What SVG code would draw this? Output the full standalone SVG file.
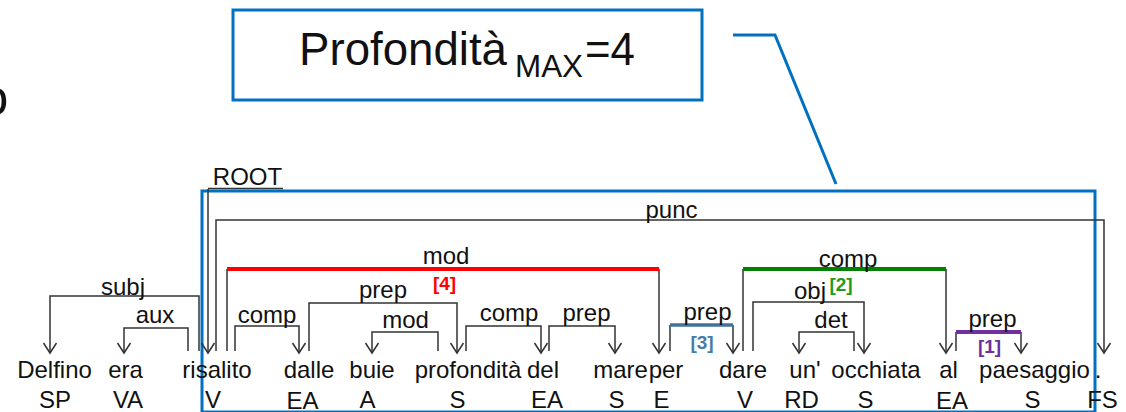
<svg xmlns="http://www.w3.org/2000/svg" width="1126" height="412" viewBox="0 0 1126 412">
<defs>
<style>
text{font-family:"Liberation Sans",Arial,sans-serif;fill:#111}
.w{font-size:24px;text-anchor:middle}
.t{font-size:24px;text-anchor:middle}
.lb{font-size:24px;text-anchor:middle}
.idx{font-size:19px;font-weight:bold;text-anchor:middle}
.c{fill:none;stroke:#333;stroke-width:1.5}
.a{fill:none;stroke:#333;stroke-width:1.5;marker-end:url(#ah)}
.blue{fill:none;stroke:#0070C0;stroke-width:3}
</style>
<marker id="ah" markerUnits="userSpaceOnUse" viewBox="-12 -8 14 16" markerWidth="14" markerHeight="16" refX="0" refY="0" orient="auto">
<path d="M-10,-6.5 L0,0 L-10,6.5" fill="none" stroke="#333" stroke-width="1.5"/>
</marker>
</defs>
<rect width="1126" height="412" fill="#fff"/>

<text x="-19.5" y="115" style="font-size:50px">o</text>

<g id="callout">
<rect class="blue" x="233" y="10" width="469" height="90"/>
<text x="299" y="65" style="font-size:47px" textLength="208" lengthAdjust="spacingAndGlyphs">Profondità</text>
<text x="515" y="77" style="font-size:32px" textLength="68" lengthAdjust="spacingAndGlyphs">MAX</text>
<text x="585" y="65" style="font-size:46px" textLength="50" lengthAdjust="spacingAndGlyphs">=4</text>
<polyline class="blue" points="733,35 775,35 836,184"/>
</g>
<rect id="scope" class="blue" x="202" y="191" width="893" height="221"/>

<g id="connectors">
<!-- ROOT -->
<text class="lb" x="247.5" y="185">ROOT</text>
<line x1="208" y1="188.5" x2="283" y2="188.5" stroke="#333" stroke-width="1.5"/>
<path class="a" d="M208,189 V353"/>
<!-- punc -->
<path class="a" d="M216,351 V220 H1104 V353"/>
<text class="lb" x="671.5" y="218">punc</text>
<!-- subj -->
<path class="a" d="M199,351 V296 H50 V353"/>
<text class="lb" x="123" y="295">subj</text>
<!-- aux -->
<path class="a" d="M188,351 V328 H124 V353"/>
<text class="lb" x="155" y="323">aux</text>
<!-- comp risalito->dalle -->
<path class="a" d="M235,351 V326 H299 V353"/>
<text class="lb" x="267" y="323">comp</text>
<!-- mod red -->
<path class="c" d="M227,351 V269"/>
<path class="a" d="M659,269 V353"/>
<line x1="227" y1="269" x2="659" y2="269" stroke="#FF0000" stroke-width="4"/>
<text class="lb" x="446" y="264">mod</text>
<text class="idx" x="444.5" y="290" style="fill:#FF0000">[4]</text>
<!-- prep dalle->profondita -->
<path class="a" d="M309,351 V303 H457 V353"/>
<text class="lb" x="383" y="298">prep</text>
<!-- mod profondita->buie -->
<path class="a" d="M438,351 V332 H372 V353"/>
<text class="lb" x="405.5" y="328">mod</text>
<!-- comp profondita->del -->
<path class="a" d="M466,351 V326 H541 V353"/>
<text class="lb" x="509" y="321">comp</text>
<!-- prep del->mare -->
<path class="a" d="M549,351 V326 H615 V353"/>
<text class="lb" x="586.5" y="321">prep</text>
<!-- prep per->dare (blue-grey) -->
<path class="c" d="M670,351 V325"/>
<path class="a" d="M733,325 V353"/>
<line x1="670" y1="325" x2="733" y2="325" stroke="#41719C" stroke-width="3.5"/>
<text class="lb" x="707.5" y="320">prep</text>
<text class="idx" x="702" y="349" style="fill:#4A7AA6">[3]</text>
<!-- comp dare->al (green) -->
<path class="c" d="M743,351 V269"/>
<path class="a" d="M946,269 V353"/>
<line x1="743" y1="269" x2="946" y2="269" stroke="#008000" stroke-width="4"/>
<text class="lb" x="848" y="267">comp</text>
<text class="idx" x="841" y="291" style="fill:#1E9B1E">[2]</text>
<!-- obj dare->occhiata -->
<path class="a" d="M753,351 V302 H864 V353"/>
<text class="lb" x="810" y="299">obj</text>
<!-- det occhiata->un' -->
<path class="a" d="M854,351 V332 H799 V353"/>
<text class="lb" x="831" y="328">det</text>
<!-- prep al->paesaggio (purple) -->
<path class="c" d="M956,351 V332"/>
<path class="a" d="M1021,332 V353"/>
<line x1="956" y1="332" x2="1021" y2="332" stroke="#7030A0" stroke-width="4"/>
<text class="lb" x="992.5" y="327">prep</text>
<text class="idx" x="989.5" y="353" style="fill:#7030A0">[1]</text>
</g>

<g id="n1"><text class="w" x="54.5" y="378">Delfino</text><text class="t" x="55" y="408">SP</text></g>
<g id="n2"><text class="w" x="125.5" y="378">era</text><text class="t" x="128" y="408">VA</text></g>
<g id="n3"><text class="w" x="217" y="378">risalito</text><text class="t" x="213" y="408">V</text></g>
<g id="n4"><text class="w" x="309" y="378">dalle</text><text class="t" x="302.5" y="408.5">EA</text></g>
<g id="n5"><text class="w" x="372" y="378">buie</text><text class="t" x="367.5" y="408">A</text></g>
<g id="n6"><text class="w" x="468" y="378">profondità</text><text class="t" x="457.5" y="408">S</text></g>
<g id="n7"><text class="w" x="543" y="378">del</text><text class="t" x="547" y="408">EA</text></g>
<g id="n8"><text class="w" x="620.5" y="378">mare</text><text class="t" x="616.5" y="408">S</text></g>
<g id="n9"><text class="w" x="666" y="378">per</text><text class="t" x="661.5" y="408">E</text></g>
<g id="n10"><text class="w" x="743" y="378">dare</text><text class="t" x="745" y="408">V</text></g>
<g id="n11"><text class="w" x="805" y="378">un'</text><text class="t" x="801.5" y="408">RD</text></g>
<g id="n12"><text class="w" x="876" y="378">occhiata</text><text class="t" x="865.5" y="408">S</text></g>
<g id="n13"><text class="w" x="948.5" y="378">al</text><text class="t" x="952" y="408.5">EA</text></g>
<g id="n14"><text class="w" x="1034.5" y="378">paesaggio</text><text class="t" x="1032.5" y="408">S</text></g>
<g id="n15"><text class="w" x="1098" y="378">.</text><text class="t" x="1102.5" y="408">FS</text></g>
</svg>
